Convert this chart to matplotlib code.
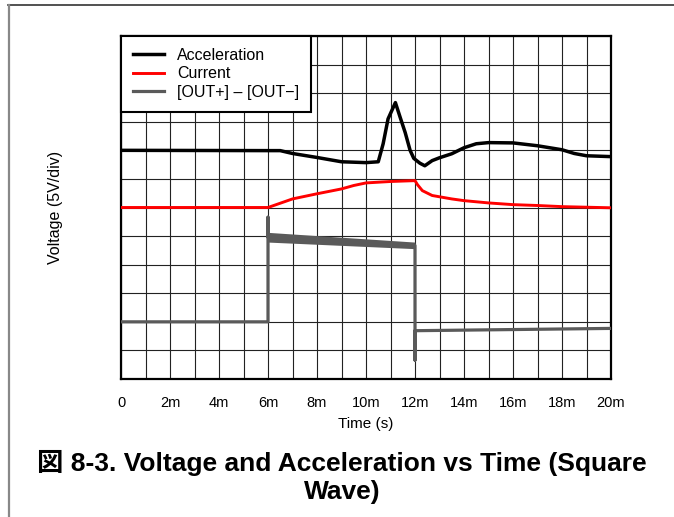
import matplotlib
matplotlib.use('Agg')
import matplotlib.pyplot as plt
from matplotlib.lines import Line2D

plt.rcParams['font.family'] = ['Liberation Sans', 'Noto Sans CJK JP']

# 时间单位 ms，纵轴单位为格（5V/div）
accel_t = [0, 6, 6.5, 7, 8, 9, 10, 10.5, 10.7, 10.9, 11.2, 11.4, 11.6, 11.8,
           11.95, 12.2, 12.4, 12.7, 13.0, 13.5, 14.0, 14.5, 15.0, 16.0, 17.0,
           18.0, 18.5, 19.0, 20.0]
accel_v = [8.0, 7.99, 7.99, 7.89, 7.75, 7.60, 7.57, 7.60, 8.23, 9.10, 9.67,
           9.14, 8.62, 8.00, 7.72, 7.55, 7.46, 7.64, 7.74, 7.88, 8.09, 8.23,
           8.27, 8.26, 8.16, 8.02, 7.89, 7.81, 7.78]

curr_t = [0, 6, 7, 8, 9, 9.5, 10, 11, 12, 12.1, 12.3, 12.7, 13.5, 14, 15, 16,
          17, 18, 20]
curr_v = [6.0, 6.0, 6.30, 6.48, 6.65, 6.77, 6.86, 6.91, 6.94, 6.80, 6.59,
          6.42, 6.30, 6.24, 6.16, 6.10, 6.07, 6.03, 5.99]

out_t = [0, 6, 6, 6, 12, 12, 12, 20]
out_v = [2.0, 2.0, 5.66, 4.96, 4.67, 0.66, 1.69, 1.77]
# 6m~12m 之间的噪声带
band_t = [6, 12]
band_hi = [5.13, 4.79]
band_lo = [4.79, 4.56]

x_ticks = [0, 2, 4, 6, 8, 10, 12, 14, 16, 18, 20]
x_labels = ['0'] + [f'{v}m' for v in x_ticks[1:]]

C_ACC = '#000000'
C_CUR = '#ff0000'
C_OUT = '#5a5a5a'

fig = plt.figure(figsize=(6.74, 5.17), dpi=100)
ax = fig.add_axes([121 / 674, 1 - 379 / 517, 490 / 674, 343 / 517])

ax.plot(accel_t, accel_v, color=C_ACC, lw=2.5, label='Acceleration', zorder=3)
ax.plot(curr_t, curr_v, color=C_CUR, lw=2.1, label='Current', zorder=3)
ax.plot(out_t, out_v, color=C_OUT, lw=2.3, label='[OUT+] – [OUT−]', zorder=3)
ax.fill_between(band_t, band_lo, band_hi, color=C_OUT, lw=0, zorder=3)

ax.set_xlim(0, 20)
ax.set_ylim(0, 12)
ax.set_xticks(x_ticks)
ax.set_xticklabels(x_labels)
ax.set_xticks(range(21), minor=True)
ax.set_yticks(range(13))
ax.set_yticklabels([])
ax.tick_params(which='both', length=0)
ax.tick_params(axis='x', pad=12, labelsize=10.5)
ax.grid(True, which='both', color='#222222', lw=0.8, zorder=1)
ax.set_axisbelow(True)
for s in ax.spines.values():
    s.set_linewidth(1.6)
    s.set_color('black')

ax.set_xlabel('Time (s)', fontsize=11)
ax.xaxis.set_label_coords(0.5, -0.112)
ax.set_ylabel('Voltage (5V/div)', fontsize=11.5)
ax.yaxis.set_label_coords(-0.118, 0.5)

leg = ax.legend(loc='upper left', bbox_to_anchor=(0, 1), borderaxespad=0,
                fontsize=11.5, fancybox=False, framealpha=1, edgecolor='black',
                handlelength=1.95, handletextpad=0.82, labelspacing=0.22,
                borderpad=0.75)
leg.get_frame().set_linewidth(1.5)

# 外框线
fig.add_artist(Line2D([8 / 674, 1], [1 - 4.5 / 517] * 2, color='#333333', lw=1.2))
fig.add_artist(Line2D([9 / 674] * 2, [0, 1 - 4.5 / 517], color='#888888', lw=1.6))

fig.text(342 / 674, 1 - 477 / 517,
         '図 8-3. Voltage and Acceleration vs Time (Square\nWave)',
         ha='center', va='center', fontsize=19, fontweight='bold',
         linespacing=1.22)

fig.savefig('out.png', dpi=100)
